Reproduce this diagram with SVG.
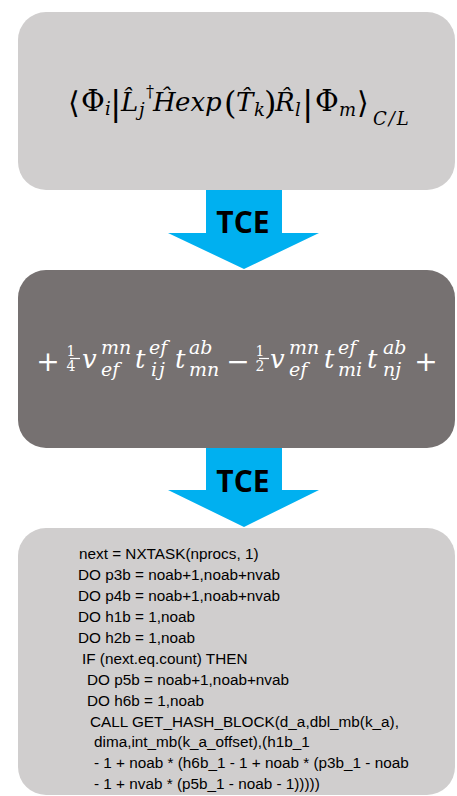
<svg xmlns="http://www.w3.org/2000/svg" width="457" height="796" viewBox="0 0 457 796">
<style>
.light{fill:#d0cece}
.dark{fill:#767171}
.arrow{fill:#00b0f0}
.tce{font-family:"Open Sans","Liberation Sans",sans-serif;font-weight:bold;font-size:30px;fill:#000;text-anchor:middle}
.m{font-family:"DejaVu Serif","DejaVu Sans",serif;font-style:italic}
.u{font-style:normal}
.code{font-family:"Liberation Sans",Arial,sans-serif;font-size:15.3px;fill:#000}
</style>
<g id="connectors">
  <g id="arrow1">
    <polygon class="arrow" points="206,189 282,189 282,233 319,233 244,269 168,233 206,233"/>
    <text class="tce" x="243" y="233">TCE</text>
  </g>
  <g id="arrow2">
    <polygon class="arrow" points="206,447 282,447 282,490 319,490 244,527 168,490 206,490"/>
    <text class="tce" x="243" y="492">TCE</text>
  </g>
</g>
<g id="node-matrix-element">
  <rect class="light" x="18" y="12" width="437" height="178" rx="28"/>
  <text class="m" font-size="26" fill="#000">
    <tspan class="u" x="68" y="113" font-size="30">⟨</tspan>
    <tspan class="u" x="81" y="111" font-size="29">Φ</tspan>
    <tspan x="105" y="115" font-size="18">i</tspan>
    <tspan class="u" x="110" y="115" font-size="34">|</tspan>
    <tspan x="121" y="111">L&#x302;</tspan>
    <tspan class="u" x="146" y="97" font-size="16">†</tspan>
    <tspan x="139" y="116" font-size="18">j</tspan>
    <tspan x="153" y="111">H&#x302;</tspan>
    <tspan x="175" y="111">exp</tspan>
    <tspan class="u" x="224" y="114" font-size="32">(</tspan>
    <tspan x="236" y="111">T&#x302;</tspan>
    <tspan x="254" y="116" font-size="18">k</tspan>
    <tspan class="u" x="264" y="114" font-size="32">)</tspan>
    <tspan x="275" y="111">R&#x302;</tspan>
    <tspan x="295" y="116" font-size="18">l</tspan>
    <tspan class="u" x="302" y="115" font-size="34">|</tspan>
    <tspan class="u" x="315" y="111" font-size="29">Φ</tspan>
    <tspan x="339" y="116" font-size="18">m</tspan>
    <tspan class="u" x="357" y="113" font-size="30">⟩</tspan>
    <tspan x="373" y="125" font-size="18" letter-spacing="2">C/L</tspan>
  </text>
</g>
<g id="node-ccsd-terms">
  <rect class="dark" x="18" y="270" width="437" height="178" rx="28"/>
  <text class="m" font-size="26" fill="#fff">
    <tspan class="u" x="52" y="371" font-size="28" text-anchor="middle">+</tspan>
    <tspan class="u" x="75" y="355.5" font-size="14" text-anchor="middle">1</tspan>
    <tspan class="u" x="75" y="371" font-size="14" text-anchor="middle">4</tspan>
    <tspan x="82" y="368">v</tspan>
    <tspan x="101" y="354" font-size="19">mn</tspan>
    <tspan x="101" y="376" font-size="19">ef</tspan>
    <tspan x="135" y="368">t</tspan>
    <tspan x="149" y="354" font-size="19">ef</tspan>
    <tspan x="151" y="376" font-size="19" letter-spacing="2">ij</tspan>
    <tspan x="175" y="368">t</tspan>
    <tspan x="189" y="354" font-size="19">ab</tspan>
    <tspan x="189" y="376" font-size="19">mn</tspan>
    <tspan class="u" x="242" y="371" font-size="28" text-anchor="middle">−</tspan>
    <tspan class="u" x="264" y="355.5" font-size="14" text-anchor="middle">1</tspan>
    <tspan class="u" x="264" y="371" font-size="14" text-anchor="middle">2</tspan>
    <tspan x="270" y="368">v</tspan>
    <tspan x="289" y="354" font-size="19">mn</tspan>
    <tspan x="289" y="376" font-size="19">ef</tspan>
    <tspan x="324" y="368">t</tspan>
    <tspan x="338" y="354" font-size="19">ef</tspan>
    <tspan x="338" y="376" font-size="19">mi</tspan>
    <tspan x="367" y="368">t</tspan>
    <tspan x="383" y="354" font-size="19">ab</tspan>
    <tspan x="383" y="376" font-size="19">nj</tspan>
    <tspan class="u" x="426" y="371" font-size="28" text-anchor="middle">+</tspan>
  </text>
  <line x1="70" y1="358.5" x2="80" y2="358.5" stroke="#fff" stroke-width="1.2"/>
  <line x1="259" y1="358.5" x2="269" y2="358.5" stroke="#fff" stroke-width="1.2"/>
</g>
<g id="node-fortran-code">
  <rect class="light" x="18" y="528" width="437" height="267" rx="28"/>
  <text class="code">
    <tspan x="79" y="559">next = NXTASK(nprocs, 1)</tspan>
    <tspan x="78" y="580">DO p3b = noab+1,noab+nvab</tspan>
    <tspan x="78" y="601">DO p4b = noab+1,noab+nvab</tspan>
    <tspan x="78" y="622">DO h1b = 1,noab</tspan>
    <tspan x="78" y="643">DO h2b = 1,noab</tspan>
    <tspan x="82" y="664">IF (next.eq.count) THEN</tspan>
    <tspan x="87" y="685">DO p5b = noab+1,noab+nvab</tspan>
    <tspan x="87" y="706">DO h6b = 1,noab</tspan>
    <tspan x="90" y="727">CALL GET_HASH_BLOCK(d_a,dbl_mb(k_a),</tspan>
    <tspan x="94" y="747">dima,int_mb(k_a_offset),(h1b_1</tspan>
    <tspan x="94" y="768">- 1 + noab * (h6b_1 - 1 + noab * (p3b_1 - noab</tspan>
    <tspan x="94" y="789">- 1 + nvab * (p5b_1 - noab - 1)))))</tspan>
  </text>
</g>
</svg>
